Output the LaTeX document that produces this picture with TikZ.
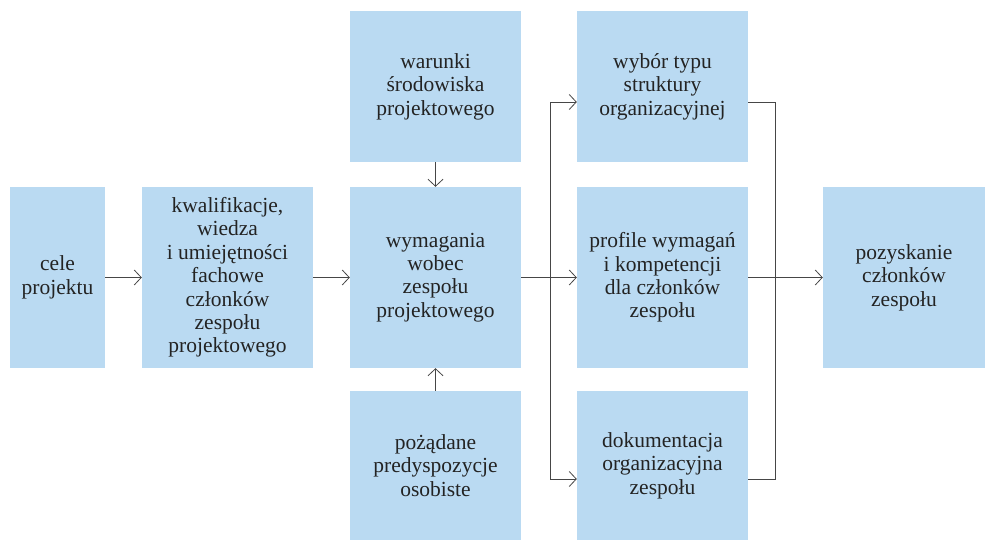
\documentclass[tikz,border=0pt]{standalone}
\usepackage{fontspec}
\setmainfont{Liberation Serif}
\usetikzlibrary{arrows.meta}

\begin{document}
\begin{tikzpicture}[x=1pt, y=-1pt,
    box/.style={rectangle, fill=boxblue, text=txtgray, align=center, inner sep=0pt,
      font=\fontsize{21.5}{23.4}\selectfont},
    line/.style={draw=linegray, line width=0.8pt},
    arr/.style={line, -{Straight Barb[length=7pt, width=15pt]}}]
    \definecolor{boxblue}{RGB}{186,218,242}  % tlo prostokatow
    \definecolor{txtgray}{RGB}{35,35,35}     % tekst
    \definecolor{linegray}{RGB}{70,70,70}    % linie

    \useasboundingbox (0,0) rectangle (985,540);

    % pierwsza kolumna
    \node (cele) at (57.5,277.5) [box, minimum width=95pt, minimum height=181pt] {cele\\projektu};
    \node (kwal) at (227.5,277.5) [box, minimum width=171pt, minimum height=181pt]
      {kwalifikacje,\\wiedza\\i umiejętności\\fachowe\\członków\\zespołu\\projektowego};

    % srodkowa kolumna
    \node (war) at (435.5,86.5) [box, minimum width=171pt, minimum height=151pt] {warunki\\środowiska\\projektowego};
    \node (wym) at (435.5,277.5) [box, minimum width=171pt, minimum height=181pt] {wymagania\\wobec\\zespołu\\projektowego};
    \node (poz) at (435.5,465.5) [box, minimum width=171pt, minimum height=149pt] {pożądane\\predyspozycje\\osobiste};

    % prawa kolumna
    \node (wyb) at (662.5,86.5) [box, minimum width=171pt, minimum height=151pt] {wybór typu\\struktury\\organizacyjnej};
    \node (prof) at (662.5,277.5) [box, minimum width=171pt, minimum height=181pt] {profile wymagań\\i kompetencji\\dla członków\\zespołu};
    \node (dok) at (662.5,465.5) [box, minimum width=171pt, minimum height=149pt] {dokumentacja\\organizacyjna\\zespołu};

    \node (pozysk) at (904,277.5) [box, minimum width=162pt, minimum height=181pt] {pozyskanie\\członków\\zespołu};

    \coordinate (split) at (550,277.5);
    \coordinate (merge) at (775,277.5);

    \draw[arr] (cele) -- (kwal);
    \draw[arr] (kwal) -- (wym);
    \draw[arr] (war) -- (wym);
    \draw[arr] (poz) -- (wym);

    \draw[arr] (wym) -- (prof);
    \draw[arr] (split) |- ([yshift=-15.5pt]wyb.west);
    \draw[arr] (split) |- ([yshift=-13.5pt]dok.west);

    \draw[line] ([yshift=-15.5pt]wyb.east) -| (merge);
    \draw[line] ([yshift=-13.5pt]dok.east) -| (merge);
    \draw[arr] (prof) -- (pozysk);
  \end{tikzpicture}
\end{document}
